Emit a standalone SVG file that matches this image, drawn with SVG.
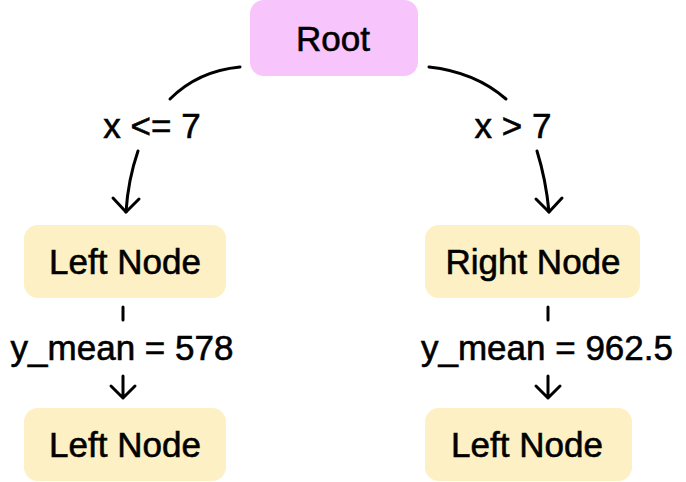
<svg xmlns="http://www.w3.org/2000/svg" width="686" height="482" viewBox="0 0 686 482">
<style>
.t{font-family:"Liberation Sans","Noto Sans",sans-serif;font-size:35px;fill:#000;stroke:#000;stroke-width:0.6;text-anchor:middle;dominant-baseline:central}
.c{fill:none;stroke:#000;stroke-width:3;stroke-linecap:round;stroke-linejoin:round}
.root{fill:#f8c4fc}
.leaf{fill:#fdf0c4}
</style>
<rect width="686" height="482" fill="#fff"/>
<g id="root"><rect class="root" x="250" y="0" width="168" height="76" rx="14"/><text class="t" x="333" y="38">Root</text></g>
<g id="left"><rect class="leaf" x="24" y="225" width="202" height="73" rx="14"/><text class="t" x="125" y="261">Left Node</text></g>
<g id="right"><rect class="leaf" x="425" y="225" width="215" height="73" rx="14"/><text class="t" x="533" y="261">Right Node</text></g>
<g id="left-leaf"><rect class="leaf" x="24" y="408" width="202" height="73" rx="14"/><text class="t" x="125" y="444">Left Node</text></g>
<g id="right-leaf"><rect class="leaf" x="425" y="408" width="207" height="73" rx="14"/><text class="t" x="527" y="444">Left Node</text></g>
<g id="connectors">
<path class="c" d="M240 67 Q198 71 170 99"/>
<path class="c" d="M138 151 Q128 180 126 212"/>
<path class="c" d="M113 198 L126 212 L139 199"/>
<path class="c" d="M429 67 Q475 72 506 99"/>
<path class="c" d="M537 151 Q546 180 549 212"/>
<path class="c" d="M536 199 L549 212 L562 198"/>
<path class="c" d="M123 307 L123 320"/>
<path class="c" d="M123 376 L123 398 M111 386 L123 398 L135 386"/>
<path class="c" d="M548 307 L548 320"/>
<path class="c" d="M548 376 L548 398 M536 386 L548 398 L560 386"/>
<text class="t" x="152" y="125">x &lt;= 7</text>
<text class="t" x="513" y="125">x &gt; 7</text>
<text class="t" x="122" y="347">y_mean = 578</text>
<text class="t" x="547" y="347">y_mean = 962.5</text>
</g>
</svg>
